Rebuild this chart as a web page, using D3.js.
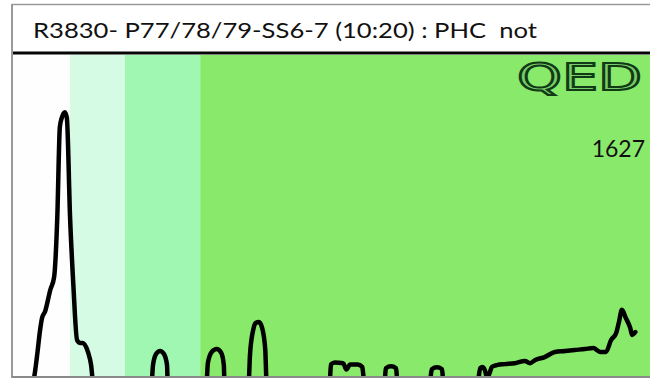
<!DOCTYPE html>
<html>
<head>
<meta charset="utf-8">
<script src="https://cdn.jsdelivr.net/npm/d3@7"></script>
<style>
  html, body { margin: 0; padding: 0; background: #ffffff; }
  svg { display: block; }
</style>
</head>
<body>
<svg id="chart" width="650" height="380"></svg>
<script>
// ---- data ----
const titleText = "R3830- P77/78/79-SS6-7 (10:20) : PHC  not";
const logoText = "QED";
const valueLabel = "1627";

// shaded retention-time windows (minutes)
const bandStarts = [0, 0.91, 1.77, 2.95];
const bandEnds   = [0.91, 1.77, 2.95, 10];
const bandColors = ["#fdfefd", "#d6fbe5", "#a0f7b2", "#89e96b"];

// chromatogram trace: time (min) and signal (% of full scale)
const traceTime = [
  0.31, 0.345, 0.40, 0.44, 0.47, 0.52, 0.60, 0.66, 0.71, 0.75, 0.78, 0.83, 0.86, 0.91, 0.96, 1.02, 1.07, 1.11, 1.19, 1.24, 1.27,
  2.19, 2.21, 2.26, 2.32, 2.38, 2.43, 2.44,
  3.05, 3.07, 3.13, 3.21, 3.28, 3.32, 3.33,
  3.71, 3.73, 3.78, 3.82, 3.87, 3.92, 3.97, 3.99,
  4.98, 5.00, 5.06, 5.19, 5.24, 5.30, 5.42, 5.49, 5.52,
  5.84, 5.86, 5.94, 6.02, 6.04,
  6.55, 6.58, 6.66, 6.74, 6.76,
  7.30, 7.34, 7.37, 7.41, 7.45, 7.49, 7.52, 7.60, 7.73, 7.88, 8.04, 8.12, 8.20, 8.35, 8.51, 8.67, 8.82, 8.98, 9.11, 9.22, 9.31, 9.39, 9.47, 9.51, 9.56, 9.62, 9.69, 9.72, 9.77
];
const traceSignal = [
  -3, -0.6, 7.5, 14.3, 18, 20.2, 26.8, 30.8, 49.5, 77.6, 80.4, 82.2, 80.4, 49.5, 29, 11.2, 10.3, 10.3, 7.5, 3.4, -1.5,
  -1.5, 3.4, 6.9, 7.8, 6.9, 3.4, -1.5,
  -1.5, 4, 7.5, 8.4, 7.2, 3.4, -1.5,
  -1.5, 6.5, 14.3, 16.5, 16.8, 15, 8.1, -1.5,
  -1.5, 3.6, 4.2, 4, 2.0, 3.6, 3.6, 2.8, -1.5,
  -1.5, 2.4, 3.0, 2.4, -1.5,
  -1.5, 2.1, 2.7, 2.1, -1.5,
  -1.5, 2.5, 2.8, 1.9, -0.6, 1.2, 2.8, 3.4, 3.7, 4, 4.7, 4, 5, 5.9, 7.5, 7.8, 8.1, 8.4, 8.7, 7.5, 7.5, 11.2, 13.4, 16.5, 20.6, 18.1, 15, 12.8, 13.7
];

// ---- layout ----
const svg = d3.select("#chart");
const frame = { left: 12, top: 4, right: 652, bottom: 378 };
const plot = { left: 13, top: 55, right: 650, bottom: 376 };

const x = d3.scaleLinear().domain([0, 10]).range([plot.left - 1, plot.right]);
const y = d3.scaleLinear().domain([0, 100]).range([plot.bottom, plot.top]);

// title area
svg.append("rect")
  .attr("x", frame.left).attr("y", frame.top)
  .attr("width", frame.right - frame.left).attr("height", plot.top - frame.top)
  .attr("fill", "#ffffff");

svg.append("text")
  .attr("x", 33).attr("y", 38)
  .attr("font-family", "Lato, 'Open Sans', sans-serif")
  .attr("font-size", 22)
  .attr("fill", "#111111")
  .attr("textLength", 504)
  .attr("lengthAdjust", "spacingAndGlyphs")
  .attr("xml:space", "preserve")
  .style("white-space", "pre")
  .text(titleText);

// clip
svg.append("clipPath").attr("id", "plotClip")
  .append("rect")
  .attr("x", plot.left).attr("y", plot.top)
  .attr("width", plot.right - plot.left).attr("height", plot.bottom - plot.top);

const g = svg.append("g").attr("clip-path", "url(#plotClip)");

// bands
const bands = bandStarts.map((s, i) => ({ s, e: bandEnds[i], c: bandColors[i] }));
g.selectAll("rect.band").data(bands).join("rect")
  .attr("class", "band")
  .attr("x", d => x(d.s))
  .attr("y", plot.top)
  .attr("width", d => x(d.e) - x(d.s))
  .attr("height", plot.bottom - plot.top)
  .attr("fill", d => d.c);

// trace
const pts = traceTime.map((t, i) => [t, traceSignal[i]]);
const line = d3.line()
  .x(d => x(d[0]))
  .y(d => y(d[1]))
  .curve(d3.curveMonotoneX);

g.append("path")
  .datum(pts)
  .attr("d", line)
  .attr("fill", "none")
  .attr("stroke", "#000000")
  .attr("stroke-width", 4.5)
  .attr("stroke-linejoin", "round")
  .attr("stroke-linecap", "round");

// logo
svg.append("text")
  .attr("x", 517).attr("y", 90)
  .attr("font-family", "'DejaVu Sans', sans-serif")
  .attr("font-size", 38)
  .attr("textLength", 125)
  .attr("lengthAdjust", "spacingAndGlyphs")
  .attr("fill", "#76cf66")
  .attr("stroke", "#123a16")
  .attr("stroke-width", 2)
  .text(logoText);

// value label
svg.append("text")
  .attr("x", 645).attr("y", 157)
  .attr("text-anchor", "end")
  .attr("font-family", "Lato, 'Open Sans', sans-serif")
  .attr("font-size", 23)
  .attr("fill", "#111111")
  .text(valueLabel);

// frame lines
svg.append("line")
  .attr("x1", frame.left).attr("x2", 650)
  .attr("y1", frame.top + 0.5).attr("y2", frame.top + 0.5)
  .attr("stroke", "#9a9a9a").attr("stroke-width", 1.5);
svg.append("line")
  .attr("x1", frame.left).attr("x2", frame.left)
  .attr("y1", frame.top).attr("y2", frame.bottom)
  .attr("stroke", "#9a9a9a").attr("stroke-width", 2);
svg.append("line")
  .attr("x1", frame.left).attr("x2", 650)
  .attr("y1", 377).attr("y2", 377)
  .attr("stroke", "#8a8a8a").attr("stroke-width", 2);
svg.append("line")
  .attr("x1", frame.left + 1).attr("x2", 650)
  .attr("y1", 53).attr("y2", 53)
  .attr("stroke", "#050505").attr("stroke-width", 3);
</script>
</body>
</html>
